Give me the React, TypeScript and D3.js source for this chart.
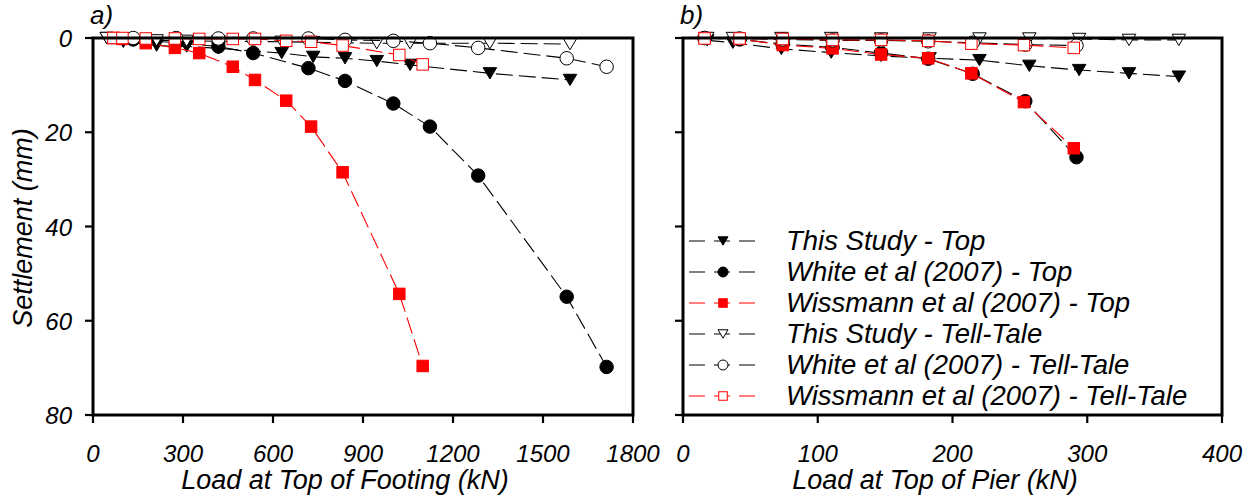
import React from 'react';
import * as d3 from 'd3';

const FONT = '"Liberation Sans", Arial, Helvetica, sans-serif';

// ---------- Panel a: load at top of footing (kN) ----------
const thisStudyLoadA = [46, 101, 212, 312, 418, 629, 734, 840, 946, 1057, 1323, 1590];
const thisStudyTopA = [0, 0.8, 1.6, 1.8, 2.2, 3.2, 4.0, 4.3, 4.9, 5.7, 7.5, 8.9];
const thisStudyTellA = [0, 0.2, 0.5, 0.6, 0.7, 0.8, 0.9, 1.0, 1.1, 1.1, 1.1, 1.3];

const whiteLoadA = [134, 277, 418, 534, 718, 840, 1001, 1123, 1284, 1579, 1712];
const whiteTopA = [0.3, 1.0, 1.8, 3.2, 6.4, 9.1, 13.9, 18.8, 29.2, 54.9, 69.8];
const whiteTellA = [0, 0, 0.1, 0.1, 0.1, 0.4, 0.6, 1.1, 2.1, 4.3, 6.1];

const wissmannLoadA = [68, 98, 176, 273, 354, 466, 540, 644, 727, 832, 1021, 1099];
const wissmannTopA = [0, 0.2, 1.1, 2.1, 3.2, 6.1, 8.9, 13.3, 18.8, 28.5, 54.3, 69.6];
const wissmannTellA = [0, 0, 0.1, 0.1, 0.2, 0.2, 0.2, 0.6, 0.8, 1.6, 3.6, 5.6];

// ---------- Panel b: load at top of pier (kN) ----------
const thisStudyLoadB = [18, 37, 73, 110, 147, 183, 220, 257, 294, 331, 368];
const thisStudyTopB = [0.5, 1.0, 2.3, 3.1, 3.8, 4.3, 4.7, 5.9, 6.8, 7.5, 8.2];
const thisStudyTellB = [0, 0, 0, 0, 0.1, 0.1, 0.1, 0.1, 0.2, 0.4, 0.4];

const whiteLoadB = [16, 42, 74, 111, 147, 182, 215, 254, 292];
const whiteTopB = [0, 0.3, 1.3, 2.0, 3.2, 4.4, 7.6, 13.4, 25.3];
const whiteTellB = [0, 0.1, 0.3, 0.5, 0.5, 0.7, 1.0, 1.4, 1.6];

const wissmannLoadB = [16, 42, 74, 111, 147, 182, 214, 253, 290];
const wissmannTopB = [0, 0.2, 1.5, 2.2, 3.5, 4.3, 7.5, 13.6, 23.4];
const wissmannTellB = [0.1, 0.1, 0.2, 0.4, 0.4, 0.6, 1.2, 1.5, 2.1];

// ---------- Axes ----------
const settlementTicks = [0, 20, 40, 60, 80];
const footingTicks = [0, 300, 600, 900, 1200, 1500, 1800];
const pierTicks = [0, 100, 200, 300, 400];

const legendLabels = [
  'This Study - Top',
  'White et al (2007) - Top',
  'Wissmann et al (2007) - Top',
  'This Study - Tell-Tale',
  'White et al (2007) - Tell-Tale',
  'Wissmann et al (2007) - Tell-Tale',
];

type MarkerType = 'tri' | 'circle' | 'square';
type Series = { color: string; marker: MarkerType; filled: boolean; load: number[]; settle: number[] };

const styles: { color: string; marker: MarkerType; filled: boolean }[] = [
  { color: '#000000', marker: 'tri', filled: true },
  { color: '#000000', marker: 'circle', filled: true },
  { color: '#ff0000', marker: 'square', filled: true },
  { color: '#000000', marker: 'tri', filled: false },
  { color: '#000000', marker: 'circle', filled: false },
  { color: '#ff0000', marker: 'square', filled: false },
];

const seriesA: Series[] = [
  { ...styles[0], load: thisStudyLoadA, settle: thisStudyTopA },
  { ...styles[1], load: whiteLoadA, settle: whiteTopA },
  { ...styles[2], load: wissmannLoadA, settle: wissmannTopA },
  { ...styles[3], load: thisStudyLoadA, settle: thisStudyTellA },
  { ...styles[4], load: whiteLoadA, settle: whiteTellA },
  { ...styles[5], load: wissmannLoadA, settle: wissmannTellA },
];
const seriesB: Series[] = [
  { ...styles[0], load: thisStudyLoadB, settle: thisStudyTopB },
  { ...styles[1], load: whiteLoadB, settle: whiteTopB },
  { ...styles[2], load: wissmannLoadB, settle: wissmannTopB },
  { ...styles[3], load: thisStudyLoadB, settle: thisStudyTellB },
  { ...styles[4], load: whiteLoadB, settle: whiteTellB },
  { ...styles[5], load: wissmannLoadB, settle: wissmannTellB },
];

const TOP = 38;
const BOTTOM = 415;
const yScale = d3.scaleLinear().domain([0, 80]).range([TOP, BOTTOM]);
const xA = d3.scaleLinear().domain([0, 1800]).range([93, 633]);
const xB = d3.scaleLinear().domain([0, 400]).range([683, 1222]);

function Marker({ type, filled, color, x, y, s }: { type: MarkerType; filled: boolean; color: string; x: number; y: number; s: number }) {
  const fill = filled ? color : '#ffffff';
  if (type === 'circle') {
    return <circle cx={x} cy={y} r={s / 2} fill={fill} stroke={color} strokeWidth={1} />;
  }
  if (type === 'square') {
    const h = (s * 0.85) / 2;
    return <rect x={x - h} y={y - h} width={2 * h} height={2 * h} fill={fill} stroke={color} strokeWidth={1} />;
  }
  const w = s / 2;
  const hh = s * 0.42;
  return (
    <path
      d={`M${x - w},${y - hh}L${x + w},${y - hh}L${x},${y + hh}Z`}
      fill={fill}
      stroke={color}
      strokeWidth={1}
      strokeLinejoin="miter"
    />
  );
}

function Panel({ x, ticks, series, showYLabels, tag, title, titleX }: any) {
  const [x0, x1] = x.range();
  const line = d3
    .line<[number, number]>()
    .x((d) => x(d[0]))
    .y((d) => yScale(d[1]));
  return (
    <g>
      {ticks.map((t: number) => (
        <g key={'xt' + t}>
          <line x1={x(t)} x2={x(t)} y1={BOTTOM} y2={BOTTOM + 8} stroke="#000" strokeWidth={2.2} />
          <text
            x={x(t)}
            y={BOTTOM + 47}
            textAnchor="middle"
            fontFamily={FONT}
            fontStyle="italic"
            fontSize={24}
          >
            {t}
          </text>
        </g>
      ))}
      {settlementTicks.map((t) => (
        <g key={'yt' + t}>
          <line x1={x0 - 8} x2={x0} y1={yScale(t)} y2={yScale(t)} stroke="#000" strokeWidth={2.2} />
          {showYLabels && (
            <text
              x={x0 - 21}
              y={yScale(t) + 9}
              textAnchor="end"
              fontFamily={FONT}
              fontStyle="italic"
              fontSize={24}
            >
              {t}
            </text>
          )}
        </g>
      ))}
      {series.map((s: Series, i: number) => {
        const pts: [number, number][] = s.load.map((l, j) => [l, s.settle[j]]);
        return (
          <g key={'s' + i}>
            <path d={line(pts) || ''} fill="none" stroke={s.color} strokeWidth={1.1} strokeDasharray="17,6" />
            {pts.map((p, j) => (
              <Marker key={j} type={s.marker} filled={s.filled} color={s.color} x={x(p[0])} y={yScale(p[1])} s={13.5} />
            ))}
          </g>
        );
      })}
      <rect x={x0} y={TOP} width={x1 - x0} height={BOTTOM - TOP} fill="none" stroke="#000" strokeWidth={3} />
      <text x={x0 - 3} y={24} fontFamily={FONT} fontStyle="italic" fontSize={26}>
        {tag}
      </text>
      <text x={titleX} y={489} textAnchor="middle" fontFamily={FONT} fontStyle="italic" fontSize={27}>
        {title}
      </text>
    </g>
  );
}

export default function App() {
  return (
    <svg
      width={1260}
      height={504}
      viewBox="0 0 1260 504"
      style={{ position: 'absolute', left: 0, top: 0, background: '#fff' }}
    >
      <rect x={0} y={0} width={1260} height={504} fill="#fff" />
      <Panel x={xA} ticks={footingTicks} series={seriesA} showYLabels tag="a)" title="Load at Top of Footing (kN)" titleX={345} />
      <Panel x={xB} ticks={pierTicks} series={seriesB} showYLabels={false} tag="b)" title="Load at Top of Pier (kN)" titleX={935} />
      <text
        transform="translate(32,228) rotate(-90)"
        textAnchor="middle"
        fontFamily={FONT}
        fontStyle="italic"
        fontSize={27}
      >
        Settlement (mm)
      </text>
      {legendLabels.map((lab, i) => {
        const cy = 241 + i * 31;
        const st = styles[i];
        return (
          <g key={'lg' + i}>
            <line x1={689} x2={757} y1={cy} y2={cy} stroke={st.color} strokeWidth={1.1} strokeDasharray="16,9" />
            <Marker type={st.marker} filled={st.filled} color={st.color} x={723} y={cy} s={10} />
            <text x={786} y={cy + 9} fontFamily={FONT} fontStyle="italic" fontSize={27.5}>
              {lab}
            </text>
          </g>
        );
      })}
    </svg>
  );
}
